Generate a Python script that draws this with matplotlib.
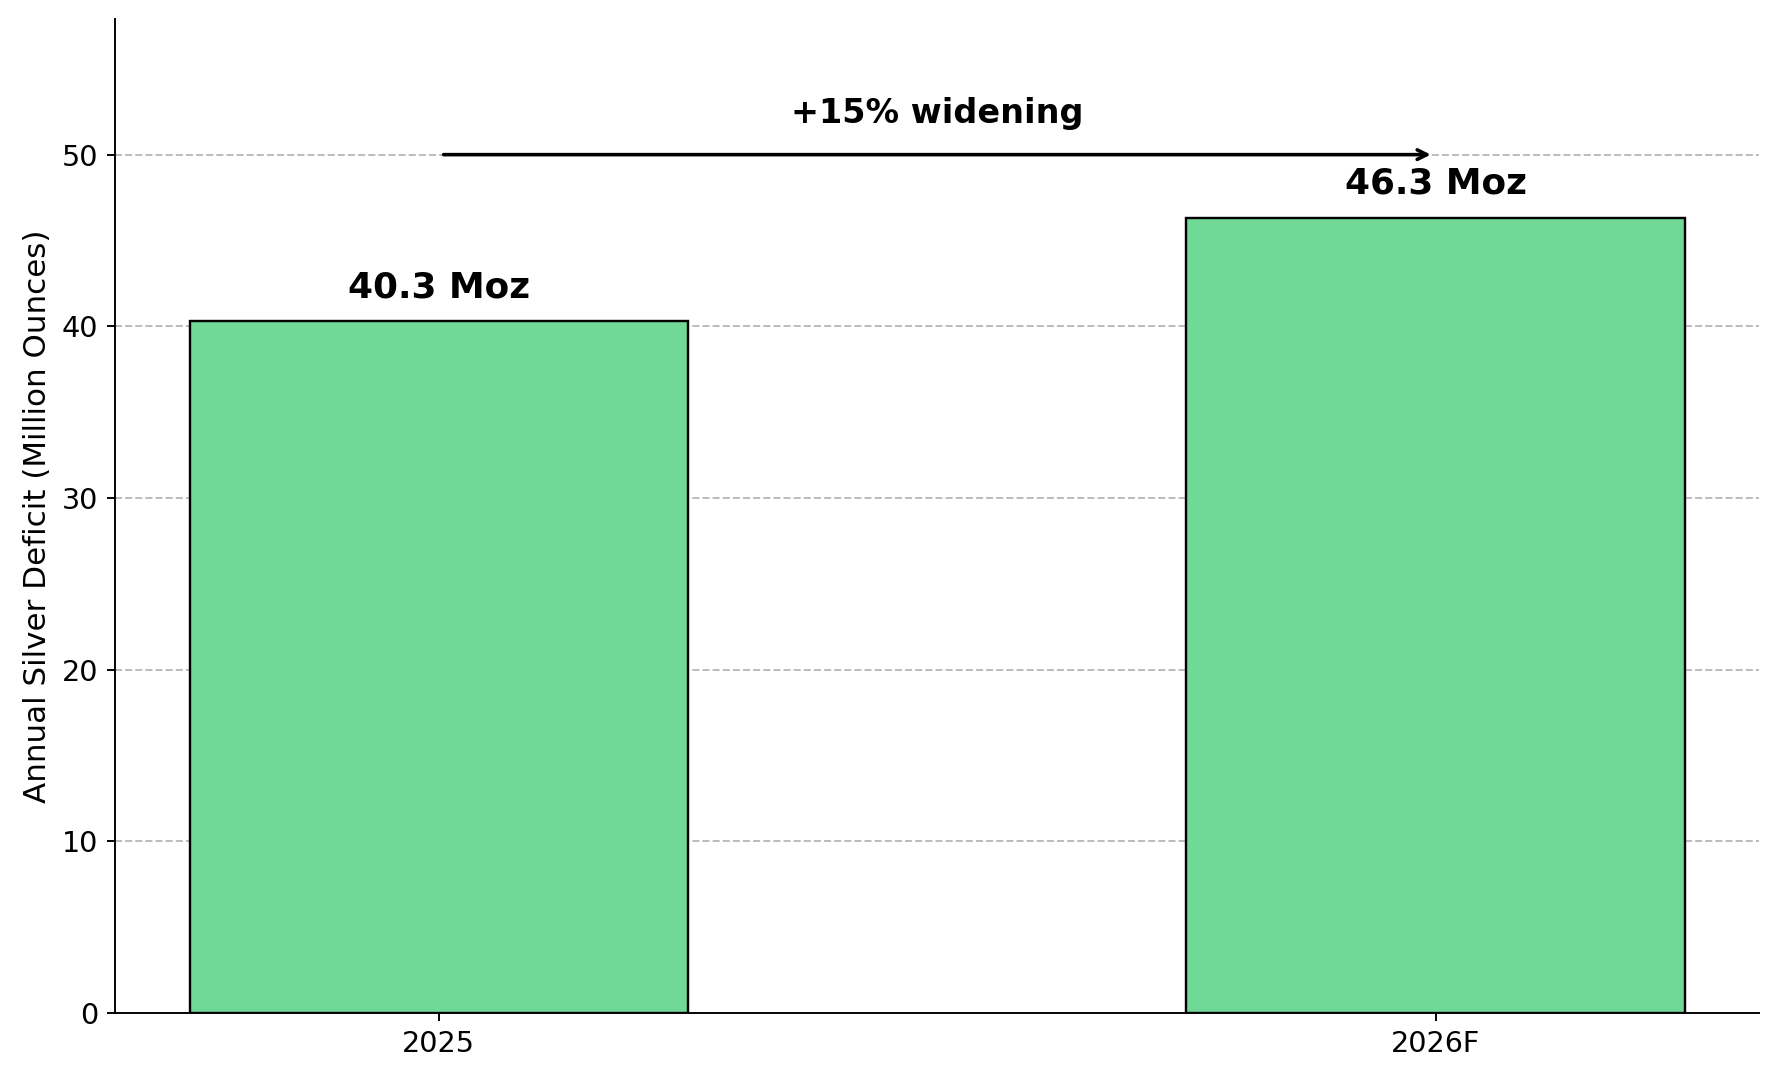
import matplotlib
matplotlib.use("Agg")

import matplotlib.pyplot as plt

years = ["2025", "2026F"]
deficit = [40.3, 46.3]
labels = ["40.3 Moz", "46.3 Moz"]
change_label = "+15% widening"

bar_color = "#71d997"

fig, ax = plt.subplots(figsize=(1779 / 172, 1080 / 172), dpi=172)
fig.subplots_adjust(left=0.0646, right=0.989, bottom=0.062, top=0.982)

x = range(len(years))
bars = ax.bar(x, deficit, width=0.5, color=bar_color, edgecolor="black", linewidth=1)

for i, (val, lab) in enumerate(zip(deficit, labels)):
    ax.text(i, val + 1, lab, ha="center", va="bottom", fontsize=15, fontweight="bold")

ax.annotate(
    "",
    xy=(1, 50),
    xytext=(0, 50),
    arrowprops=dict(arrowstyle="->", lw=1.5, color="black"),
)
ax.text(0.5, 51.45, change_label, ha="center", va="bottom", fontsize=14, fontweight="bold")

ax.set_xticks(list(x))
ax.set_xticklabels(years, fontsize=12)
ax.tick_params(axis="y", labelsize=12)
ax.set_ylabel("Annual Silver Deficit (Million Ounces)", fontsize=13)
ax.set_ylim(0, max(deficit) * 1.25)

ax.grid(axis="y", linestyle="--", color="#bbbbbb", alpha=1.0)
ax.set_axisbelow(True)
ax.spines["top"].set_visible(False)
ax.spines["right"].set_visible(False)

fig.savefig("out.png", dpi=172)
